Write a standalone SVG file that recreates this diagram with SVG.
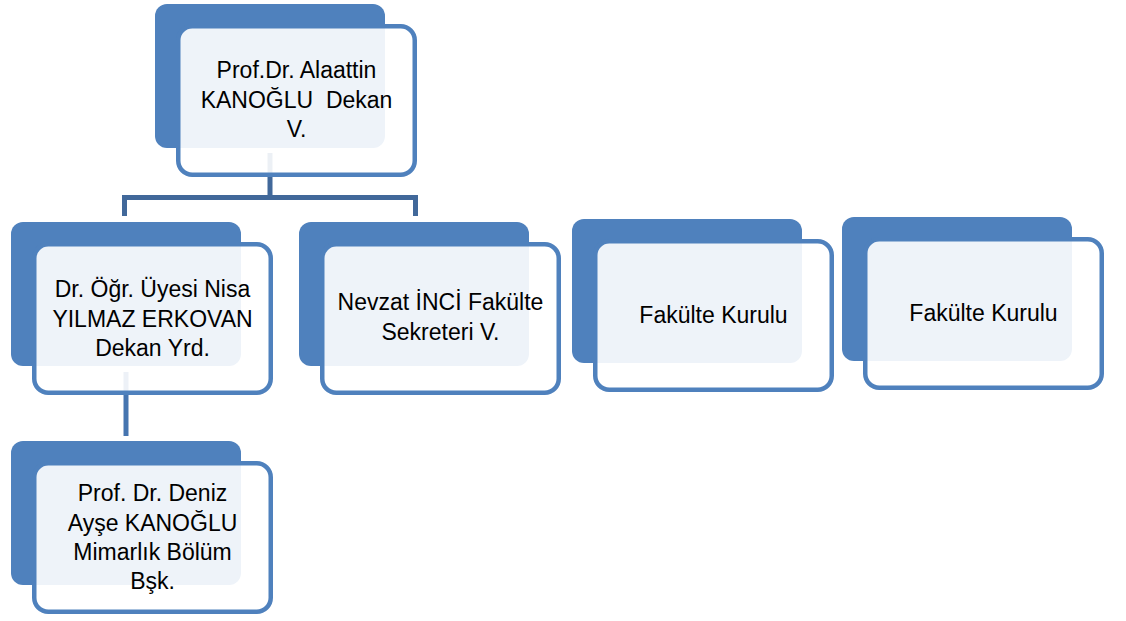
<svg xmlns="http://www.w3.org/2000/svg" width="1126" height="621" viewBox="0 0 1126 621">
<style>
.back{fill:#4F81BD}
.front{fill:#FFFFFF;fill-opacity:0.9;stroke:#4F81BD;stroke-width:4.5}
.conn{fill:none;stroke:#41689A;stroke-width:5}
.conn2{fill:none;stroke:#4675B0;stroke-width:5}
text{font-family:"Liberation Sans",Arial,sans-serif;font-size:23px;fill:#000;text-anchor:middle;white-space:pre}
</style>
<rect width="1126" height="621" fill="#FFFFFF"/>
<g id="connectors">
<path class="conn" d="M270 153 V197.5 M124.5 216 V197.5 H415.5 V216"/>
<path class="conn2" d="M126 372 V436"/>
</g>
<g id="node-dekan">
<rect class="back" x="155" y="4" width="230" height="144" rx="12"/>
<rect class="front" x="178.25" y="26.25" width="236.5" height="148.5" rx="14"/>
<text x="296.5" y="78">Prof.Dr. Alaattin</text>
<text x="296.5" y="107.5">KANOĞLU  Dekan</text>
<text x="296.5" y="137">V.</text>
</g>
<g id="node-dekan-yrd">
<rect class="back" x="11" y="222" width="230" height="144" rx="12"/>
<rect class="front" x="34.25" y="244.25" width="236.5" height="148.5" rx="14"/>
<text x="152.5" y="297">Dr. Öğr. Üyesi Nisa</text>
<text x="152.5" y="326.5">YILMAZ ERKOVAN</text>
<text x="152.5" y="356">Dekan Yrd.</text>
</g>
<g id="node-sekreter">
<rect class="back" x="299" y="222" width="230" height="144" rx="12"/>
<rect class="front" x="322.25" y="244.25" width="236.5" height="148.5" rx="14"/>
<text x="440.5" y="310">Nevzat İNCİ Fakülte</text>
<text x="440.5" y="339.5">Sekreteri V.</text>
</g>
<g id="node-kurul-1">
<rect class="back" x="572" y="219" width="230" height="144" rx="12"/>
<rect class="front" x="595.25" y="241.25" width="236.5" height="148.5" rx="14"/>
<text x="713.5" y="323">Fakülte Kurulu</text>
</g>
<g id="node-kurul-2">
<rect class="back" x="842" y="217" width="230" height="144" rx="12"/>
<rect class="front" x="865.25" y="239.25" width="236.5" height="148.5" rx="14"/>
<text x="983.5" y="321">Fakülte Kurulu</text>
</g>
<g id="node-bolum">
<rect class="back" x="11" y="441" width="230" height="144" rx="12"/>
<rect class="front" x="34.25" y="463.25" width="236.5" height="148.5" rx="14"/>
<text x="152.5" y="501">Prof. Dr. Deniz</text>
<text x="152.5" y="530.5">Ayşe KANOĞLU</text>
<text x="152.5" y="560">Mimarlık Bölüm</text>
<text x="152.5" y="589">Bşk.</text>
</g>
</svg>
